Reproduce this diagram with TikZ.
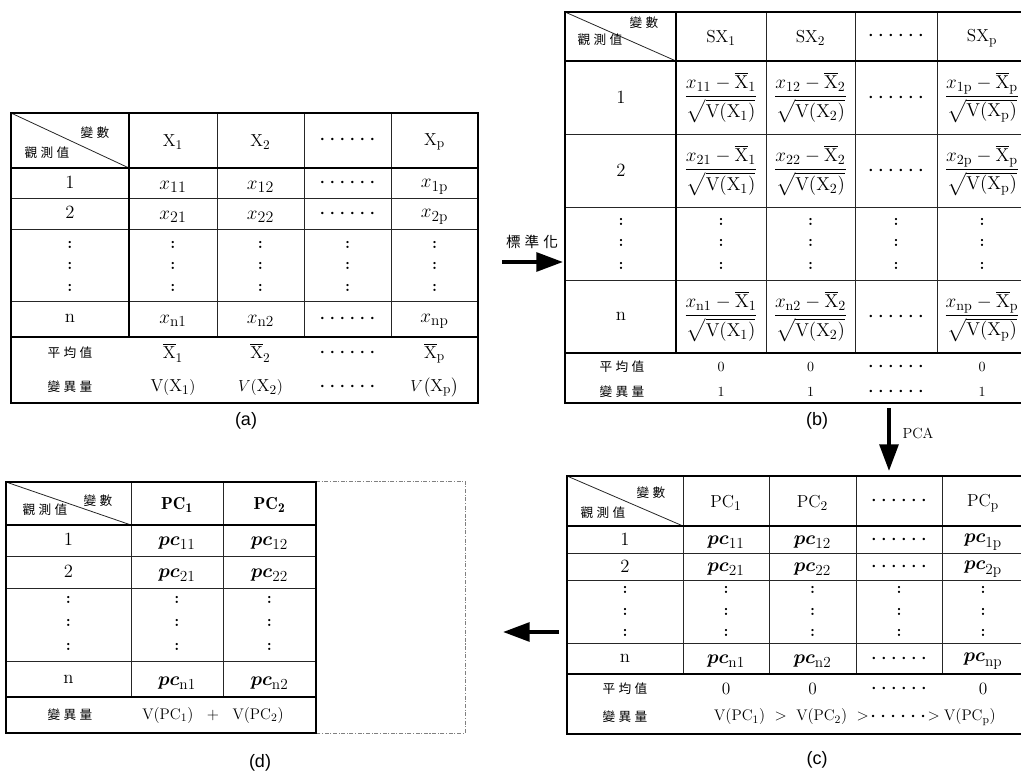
\documentclass[tikz,border=0pt]{standalone}
\usepackage{amsmath}
\usepackage{fontspec}
\newfontfamily\cjkfont{Noto Sans CJK TC}
\newfontfamily\labfont{Liberation Sans}
\usetikzlibrary{arrows.meta}
\DeclareMathSizes{13}{13}{10}{7.5}
\DeclareMathSizes{14}{14}{10.5}{8}
\DeclareMathSizes{15.5}{15.5}{11.5}{8.5}
\DeclareMathSizes{11.5}{11.5}{8.5}{6.5}
\newcommand{\cjkgap}{\hspace{2.5pt}}
\newcommand{\sixdots}{\ensuremath{{\boldsymbol{\cdot}}\mkern5.5mu{\boldsymbol{\cdot}}\mkern5.5mu{\boldsymbol{\cdot}}\mkern5.5mu{\boldsymbol{\cdot}}\mkern5.5mu{\boldsymbol{\cdot}}\mkern5.5mu{\boldsymbol{\cdot}}}}
\newcommand{\Xb}[1]{\overline{\mathrm{X}}_{\mathrm{#1}}}
\newcommand{\fr}[2]{\dfrac{x_{\mathrm{#1}}-\Xb{#2}}{\sqrt{\mathrm{V}(\mathrm{X}_{\mathrm{#2}})}}}
\newcommand{\pcv}[1]{\boldsymbol{pc}_{\mathrm{#1}}}
\tikzset{
  outer/.style={line width=2pt},
  sep/.style={line width=1.5pt},
  mid/.style={line width=1.1pt},
  thin/.style={line width=0.6pt, black!85},
  txt/.style={inner sep=0pt, font=\fontsize{13}{15}\selectfont},
  var/.style={inner sep=0pt, font=\fontsize{15.5}{17}\selectfont},
  rowh/.style={inner sep=0pt, font=\fontsize{14}{16}\selectfont},
  fracs/.style={inner sep=0pt, font=\fontsize{14}{16}\selectfont},
  small/.style={inner sep=0pt, font=\fontsize{10.5}{12}\selectfont},
  expr/.style={inner sep=0pt, font=\fontsize{11.5}{13}\selectfont},
  cjk/.style={inner sep=0pt, font=\cjkfont\fontsize{9.5}{11}\selectfont},
  lab/.style={inner sep=0pt, font=\labfont\fontsize{13.5}{16}\selectfont},
  bigarrow/.style={line width=3pt, -{Triangle[length=20pt,width=14pt]}},
  dotbox/.style={gray, line width=0.6pt, dash pattern=on 3pt off 1.2pt on 0.8pt off 1.2pt},
  vd/.style={inner sep=0pt, font=\bfseries\fontsize{12}{14}\selectfont}
}
\begin{document}
\begin{tikzpicture}[x=0.75pt,y=-0.75pt]
\useasboundingbox (0,0) rectangle (1021,777);

% ================= Table (a) =================
\draw[thin] (11,198) -- (478,198) (11,229) -- (478,229) (11,301) -- (478,301);
\draw[thin] (217,113) -- (217,337) (304,113) -- (304,337) (391,113) -- (391,337);
\draw[mid] (129,113) -- (129,337);
\draw[thin] (11,113) -- (129,168);
\draw[sep] (11,168) -- (478,168) (11,337) -- (478,337);
\draw[outer] (11,113) rectangle (478,403);
\node[cjk] (a-var) at (95,133) {變\cjkgap 數};
\node[cjk] (a-obs) at (47,153) {觀\cjkgap 測\cjkgap 值};
\node[txt] (a-h1) at (173,142) {$\mathrm{X}_1$};
\node[txt] (a-h2) at (260.5,142) {$\mathrm{X}_2$};
\node[txt] (a-h3) at (347.5,140) {\sixdots};
\node[txt] (a-h4) at (434.5,142) {$\mathrm{X}_\mathrm{p}$};
\node[rowh] (a-r1) at (70,182) {1};
\node[var] (a-11) at (173,187) {$x_{11}$};
\node[var] (a-12) at (260.5,187) {$x_{12}$};
\node[txt] (a-13) at (347.5,183) {\sixdots};
\node[var] (a-14) at (434.5,187) {$x_{\mathrm{1p}}$};
\node[rowh] (a-r2) at (70,212) {2};
\node[var] (a-21) at (173,217) {$x_{21}$};
\node[var] (a-22) at (260.5,217) {$x_{22}$};
\node[txt] (a-23) at (347.5,214) {\sixdots};
\node[var] (a-24) at (434.5,217) {$x_{\mathrm{2p}}$};
\foreach \x [count=\i] in {70,173,260.5,347.5,434.5}
  \foreach \y [count=\j] in {245,266,288}
    \node[vd] (a-v\i\j) at (\x,\y) {:};
\node[rowh] (a-rn) at (70,318) {n};
\node[var] (a-n1) at (173,321) {$x_{\mathrm{n1}}$};
\node[var] (a-n2) at (260.5,321) {$x_{\mathrm{n2}}$};
\node[txt] (a-n3) at (347.5,319) {\sixdots};
\node[var] (a-n4) at (434.5,321) {$x_{\mathrm{np}}$};
\node[cjk] (a-mean) at (70,353) {平\cjkgap 均\cjkgap 值};
\node[txt] (a-m1) at (173,353) {$\Xb{1}$};
\node[txt] (a-m2) at (260.5,353) {$\Xb{2}$};
\node[txt] (a-m3) at (347.5,353) {\sixdots};
\node[txt] (a-m4) at (434.5,353) {$\Xb{p}$};
\node[cjk] (a-var2) at (70,387) {變\cjkgap 異\cjkgap 量};
\node[txt] (a-s1) at (173,387) {$\mathrm{V}(\mathrm{X}_1)$};
\node[txt] (a-s2) at (260.5,387) {$V(\mathrm{X}_2)$};
\node[txt] (a-s3) at (347.5,387) {\sixdots};
\node[txt] (a-s4) at (434.5,387) {$V\big(\mathrm{X}_\mathrm{p}\big)$};
\node[lab] (la) at (246,421) {(a)};

% ================= Table (b) =================
\draw[thin] (565,134) -- (1021,134) (565,207) -- (1021,207) (565,280) -- (1021,280);
\draw[thin] (766,12) -- (766,353) (855,12) -- (855,353) (937,12) -- (937,353);
\draw[mid] (676,12) -- (676,353);
\draw[thin] (565,12) -- (676,61);
\draw[sep] (565,61) -- (1021,61) (565,353) -- (1021,353);
\draw[outer] (1021,12) -- (565,12) -- (565,403) -- (1021,403);
\node[cjk] (b-var) at (644,23) {變\cjkgap 數};
\node[cjk] (b-obs) at (600,40) {觀\cjkgap 測\cjkgap 值};
\node[txt] (b-h1) at (721,38) {$\mathrm{SX}_1$};
\node[txt] (b-h2) at (810.5,38) {$\mathrm{SX}_2$};
\node[txt] (b-h3) at (896,36) {\sixdots};
\node[txt] (b-h4) at (982,38) {$\mathrm{SX}_\mathrm{p}$};
\node[rowh] (b-r1) at (621,97.5) {1};
\node[fracs] (b-11) at (721,97.5) {$\fr{11}{1}$};
\node[fracs] (b-12) at (810.5,97.5) {$\fr{12}{2}$};
\node[txt] (b-13) at (896,97.5) {\sixdots};
\node[fracs] (b-14) at (982,97.5) {$\fr{1p}{p}$};
\node[rowh] (b-r2) at (621,170.5) {2};
\node[fracs] (b-21) at (721,170.5) {$\fr{21}{1}$};
\node[fracs] (b-22) at (810.5,170.5) {$\fr{22}{2}$};
\node[txt] (b-23) at (896,170.5) {\sixdots};
\node[fracs] (b-24) at (982,170.5) {$\fr{2p}{p}$};
\foreach \x [count=\i] in {621,721,810.5,896,982}
  \foreach \y [count=\j] in {222,243,266}
    \node[vd] (b-v\i\j) at (\x,\y) {:};
\node[rowh] (b-rn) at (621,316.5) {n};
\node[fracs] (b-n1) at (721,316.5) {$\fr{n1}{1}$};
\node[fracs] (b-n2) at (810.5,316.5) {$\fr{n2}{2}$};
\node[txt] (b-n3) at (896,316.5) {\sixdots};
\node[fracs] (b-n4) at (982,316.5) {$\fr{np}{p}$};
\node[cjk] (b-mean) at (622,367) {平\cjkgap 均\cjkgap 值};
\node[small] (b-m1) at (721,367) {0};
\node[small] (b-m2) at (810.5,367) {0};
\node[txt] (b-m3) at (896,367) {\sixdots};
\node[small] (b-m4) at (982,367) {0};
\node[cjk] (b-var2) at (622,392) {變\cjkgap 異\cjkgap 量};
\node[small] (b-s1) at (721,392) {1};
\node[small] (b-s2) at (810.5,392) {1};
\node[txt] (b-s3) at (896,392) {\sixdots};
\node[small] (b-s4) at (982,392) {1};
\node[lab] (lb) at (817,421) {(b)};

% ================= Table (c) =================
\draw[thin] (567,553) -- (1021,553) (567,580) -- (1021,580) (567,643) -- (1021,643);
\draw[thin] (683,476) -- (683,674) (769,476) -- (769,674) (856,476) -- (856,674) (942,476) -- (942,674);
\draw[thin] (567,476) -- (683,526);
\draw[sep] (567,526) -- (1021,526) (567,674) -- (1021,674);
\draw[outer] (1021,476) -- (567,476) -- (567,734) -- (1021,734);
\node[cjk] (c-var) at (651,493) {變\cjkgap 數};
\node[cjk] (c-obs) at (603,513) {觀\cjkgap 測\cjkgap 值};
\node[txt] (c-h1) at (726,503) {$\mathrm{PC}_1$};
\node[txt] (c-h2) at (812.5,503) {$\mathrm{PC}_2$};
\node[txt] (c-h3) at (899,501) {\sixdots};
\node[txt] (c-h4) at (983,503) {$\mathrm{PC}_\mathrm{p}$};
\node[rowh] (c-r1) at (625,539) {1};
\node[var] (c-11) at (726,542) {$\pcv{11}$};
\node[var] (c-12) at (812.5,542) {$\pcv{12}$};
\node[txt] (c-13) at (899,540) {\sixdots};
\node[var] (c-14) at (983,542) {$\pcv{1p}$};
\node[rowh] (c-r2) at (625,566) {2};
\node[var] (c-21) at (726,569) {$\pcv{21}$};
\node[var] (c-22) at (812.5,569) {$\pcv{22}$};
\node[txt] (c-23) at (899,567) {\sixdots};
\node[var] (c-24) at (983,569) {$\pcv{2p}$};
\foreach \x [count=\i] in {625,726,812.5,899,983}
  \foreach \y [count=\j] in {590,612,633}
    \node[vd] (c-v\i\j) at (\x,\y) {:};
\node[rowh] (c-rn) at (625,658) {n};
\node[var] (c-n1) at (726,661) {$\pcv{n1}$};
\node[var] (c-n2) at (812.5,661) {$\pcv{n2}$};
\node[txt] (c-n3) at (899,659) {\sixdots};
\node[var] (c-n4) at (983,661) {$\pcv{np}$};
\node[cjk] (c-mean) at (625,689) {平\cjkgap 均\cjkgap 值};
\node[txt] (c-m1) at (726,689) {0};
\node[txt] (c-m2) at (812.5,689) {0};
\node[txt] (c-m3) at (899,689) {\sixdots};
\node[txt] (c-m4) at (983,689) {0};
\node[cjk] (c-var2) at (625,717) {變\cjkgap 異\cjkgap 量};
\node[expr] (c-s) at (855,717) {$\mathrm{V(PC_1)}\ >\ \mathrm{V(PC_2)}\ >\!\sixdots\!>\mathrm{V(PC_p)}$};
\node[lab] (lc) at (817,760) {(c)};

% ================= Table (d) =================
\draw[dotbox] (316,481) -- (465,481) -- (465,733) -- (316,733);
\draw[thin] (6,556) -- (316,556) (6,588) -- (316,588) (6,661) -- (316,661);
\draw[thin] (131,482) -- (131,697) (223,482) -- (223,697);
\draw[thin] (6,482) -- (131,525);
\draw[sep] (6,525) -- (316,525) (6,697) -- (316,697);
\draw[outer] (6,482) rectangle (316,733);
\node[cjk] (d-var) at (98,501) {變\cjkgap 數};
\node[cjk] (d-obs) at (45,510) {觀\cjkgap 測\cjkgap 值};
\node[txt] (d-h1) at (177,505) {$\mathbf{PC}_{\mathbf{1}}$};
\node[txt] (d-h2) at (269.5,505) {$\mathbf{PC}_{\mathbf{2}}$};
\node[rowh] (d-r1) at (68.5,539) {1};
\node[var] (d-11) at (177,543) {$\pcv{11}$};
\node[var] (d-12) at (269.5,543) {$\pcv{12}$};
\node[rowh] (d-r2) at (68.5,571) {2};
\node[var] (d-21) at (177,575) {$\pcv{21}$};
\node[var] (d-22) at (269.5,575) {$\pcv{22}$};
\foreach \x [count=\i] in {68.5,177,269.5}
  \foreach \y [count=\j] in {600,623,647}
    \node[vd] (d-v\i\j) at (\x,\y) {:};
\node[rowh] (d-rn) at (68.5,679) {n};
\node[var] (d-n1) at (177,683) {$\pcv{n1}$};
\node[var] (d-n2) at (269.5,683) {$\pcv{n2}$};
\node[cjk] (d-var2) at (70,715) {變\cjkgap 異\cjkgap 量};
\node[expr] (d-s) at (213,715) {$\mathrm{V(PC_1)}\ \ +\ \ \mathrm{V(PC_2)}$};
\node[lab] (ld) at (260,763) {(d)};

% ================= Arrows =================
\coordinate (s-from) at (502,262);
\coordinate (s-to) at (563,262);
\draw[bigarrow] (s-from) -- (s-to);
\node[cjk, font=\cjkfont\fontsize{11}{13}\selectfont] (s-lab) at (532,242) {標\hspace{3pt}準\hspace{3pt}化};
\coordinate (p-from) at (889,408);
\coordinate (p-to) at (889,471);
\draw[bigarrow] (p-from) -- (p-to);
\node[inner sep=0pt, font=\fontsize{11}{13}\selectfont] (p-lab) at (918,433) {PCA};
\coordinate (l-from) at (559,632);
\coordinate (l-to) at (503,632);
\draw[bigarrow] (l-from) -- (l-to);
\end{tikzpicture}
\end{document}
